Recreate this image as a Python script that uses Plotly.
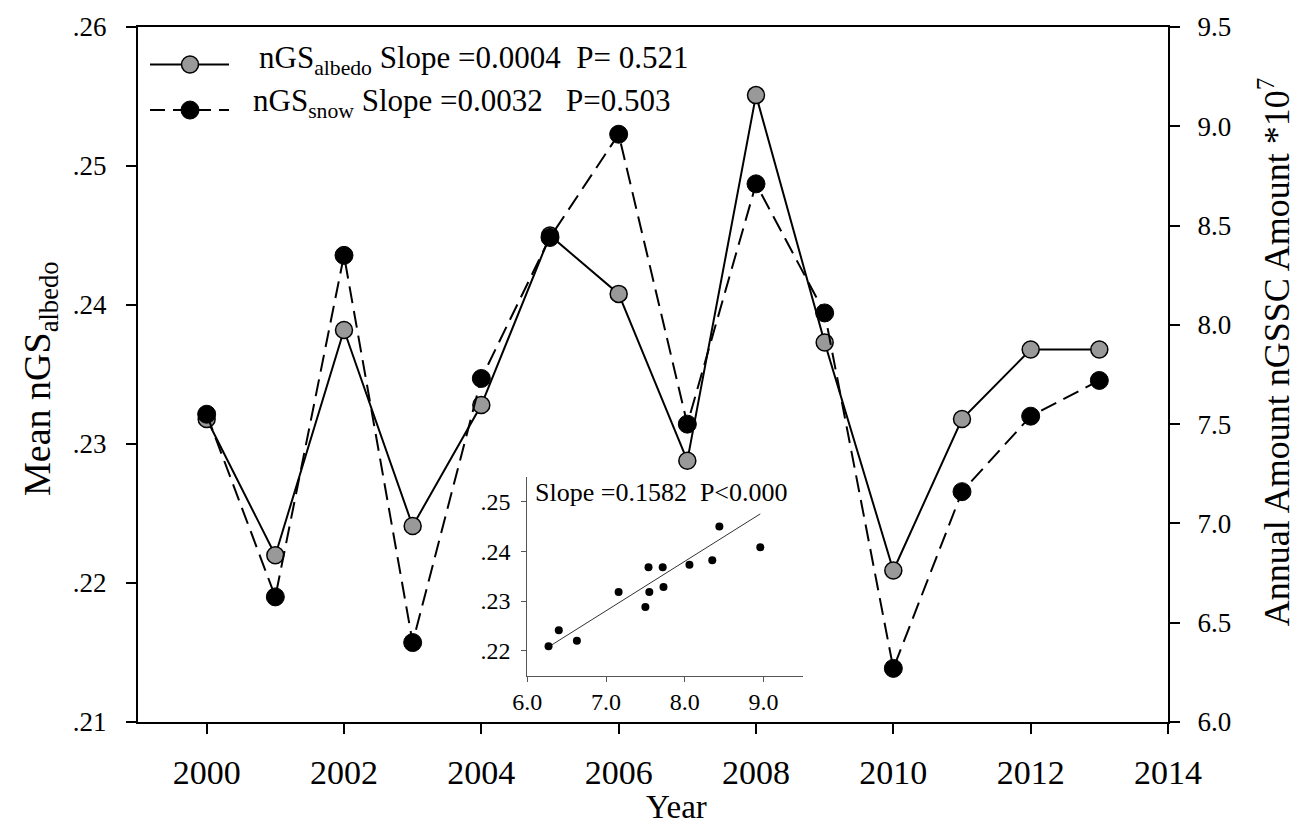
import numpy as np
import plotly.graph_objects as go

# ---------------- data ----------------
years = [2000, 2001, 2002, 2003, 2004, 2005, 2006, 2007, 2008, 2009, 2010, 2011, 2012, 2013]
albedo = [0.2318, 0.2220, 0.2382, 0.2241, 0.2328, 0.2450, 0.2408, 0.2288, 0.2551, 0.2373,
          0.2209, 0.2318, 0.2368, 0.2368]
snow = [7.55, 6.63, 8.35, 6.40, 7.73, 8.44, 8.96, 7.50, 8.71, 8.06, 6.27, 7.16, 7.54, 7.72]

x_ticks = [2000, 2002, 2004, 2006, 2008, 2010, 2012, 2014]
left_ticks = [0.21, 0.22, 0.23, 0.24, 0.25, 0.26]
left_tick_labels = [".21", ".22", ".23", ".24", ".25", ".26"]
right_ticks = [6.0, 6.5, 7.0, 7.5, 8.0, 8.5, 9.0, 9.5]
inset_x_ticks = [6.0, 7.0, 8.0, 9.0]
inset_x_labels = ["6.0", "7.0", "8.0", "9.0"]
inset_y_ticks = [0.22, 0.23, 0.24, 0.25]
inset_y_labels = [".22", ".23", ".24", ".25"]

legend_albedo = "nGS<sub>albedo</sub> Slope =0.0004&nbsp;&nbsp;P= 0.521"
legend_snow = "nGS<sub>snow</sub> Slope =0.0032&nbsp;&nbsp;&nbsp;P=0.503"
inset_text = "Slope =0.1582&nbsp;&nbsp;P&lt;0.000"

FONT = "Liberation Serif"
GRAY = "#999999"

# ---------------- layout geometry (pixels) ----------------
W, H = 1303, 826
L, R, T, B = 138, 135, 19, 104
PW, PH = W - L - R, H - T - B


def px(xp):
    return (xp - L) / PW


def py(yp):
    return (H - B - yp) / PH


fig = go.Figure()

# main series
fig.add_trace(go.Scatter(
    x=years, y=albedo, mode="lines+markers", yaxis="y", xaxis="x",
    line=dict(color="black", width=2),
    marker=dict(size=17, color=GRAY, line=dict(color="black", width=1.5)),
    showlegend=False, cliponaxis=False))
fig.add_trace(go.Scatter(
    x=years, y=snow, mode="lines+markers", yaxis="y2", xaxis="x",
    line=dict(color="black", width=2, dash="17px,8px"),
    marker=dict(size=18, color="black", line=dict(color="black", width=1)),
    showlegend=False, cliponaxis=False))

# inset: albedo vs snow amount, with linear fit
inset_range_y = [0.215, 0.255]
sx = np.array(snow)
sy = np.array(albedo)
k, b = np.polyfit(sx, sy, 1)
fit_x = np.array([sx.min(), sx.max()])
fit_y = k * fit_x + b
keep = (sy >= inset_range_y[0]) & (sy <= inset_range_y[1])

fig.add_trace(go.Scatter(
    x=fit_x, y=fit_y, mode="lines", xaxis="x3", yaxis="y3",
    line=dict(color="#333333", width=1), showlegend=False))
fig.add_trace(go.Scatter(
    x=sx[keep], y=sy[keep], mode="markers", xaxis="x3", yaxis="y3",
    marker=dict(size=8, color="black"), showlegend=False))

axis_font = dict(family=FONT, size=34, color="black")
ytick_font = dict(family=FONT, size=27, color="black")
inset_font = dict(family=FONT, size=24, color="black")

fig.update_layout(
    width=W, height=H,
    margin=dict(l=L, r=R, t=T, b=B, pad=0),
    paper_bgcolor="white", plot_bgcolor="rgba(0,0,0,0)",
    font=dict(family=FONT, color="black"),
    xaxis=dict(
        domain=[0, 1], range=[1999, 2014], tickvals=x_ticks,
        showline=True, linewidth=2, linecolor="black", mirror=True,
        ticks="outside", ticklen=10, tickwidth=2, tickcolor="black",
        tickfont=axis_font, ticklabelstandoff=9,
        showgrid=False, zeroline=False, anchor="y"),
    yaxis=dict(
        domain=[0, 1], range=[0.21, 0.26], tickvals=left_ticks, ticktext=left_tick_labels,
        showline=True, linewidth=2, linecolor="black", mirror=True,
        ticks="outside", ticklen=10, tickwidth=2, tickcolor="black",
        tickfont=ytick_font, ticklabelstandoff=14,
        showgrid=False, zeroline=False, anchor="x"),
    yaxis2=dict(
        overlaying="y", side="right", range=[6.0, 9.5], tickvals=right_ticks,
        tickformat=".1f",
        showline=True, linewidth=2, linecolor="black",
        ticks="outside", ticklen=10, tickwidth=2, tickcolor="black",
        tickfont=ytick_font, ticklabelstandoff=12,
        showgrid=False, zeroline=False, anchor="x"),
    xaxis3=dict(
        domain=[px(527.3), px(802.8)], range=[6.0, 9.5],
        tickvals=inset_x_ticks, ticktext=inset_x_labels,
        showline=True, linewidth=1, linecolor="#555555",
        ticks="outside", ticklen=5, tickwidth=1, tickcolor="#555555",
        tickfont=inset_font, ticklabelstandoff=0,
        showgrid=False, zeroline=False, anchor="y3"),
    yaxis3=dict(
        domain=[py(675), py(474)], range=inset_range_y,
        tickvals=inset_y_ticks, ticktext=inset_y_labels,
        showline=True, linewidth=1, linecolor="#555555",
        ticks="outside", ticklen=5, tickwidth=1, tickcolor="#555555",
        tickfont=inset_font, ticklabelstandoff=6,
        showgrid=False, zeroline=False, anchor="x3"),
)

annotations = [
    dict(text="Year", x=px(676), y=py(808), xref="paper", yref="paper",
         xanchor="center", yanchor="middle", showarrow=False,
         font=dict(family=FONT, size=33, color="black")),
    dict(text="Mean nGS<sub>albedo</sub>", x=px(40), y=py(375), xref="paper", yref="paper",
         xanchor="center", yanchor="middle", textangle=-90, showarrow=False,
         font=dict(family=FONT, size=38, color="black")),
    dict(text="Annual Amount nGSSC Amount *10<sup>7</sup>", x=px(1274), y=py(348),
         xref="paper", yref="paper", xanchor="center", yanchor="middle", textangle=-90,
         showarrow=False, font=dict(family=FONT, size=36, color="black")),
    dict(text=legend_albedo, x=px(257), y=py(52), xref="paper", yref="paper",
         xanchor="left", yanchor="middle", showarrow=False,
         font=dict(family=FONT, size=31, color="black")),
    dict(text=legend_snow, x=px(251), y=py(96), xref="paper", yref="paper",
         xanchor="left", yanchor="middle", showarrow=False,
         font=dict(family=FONT, size=31, color="black")),
    dict(text=inset_text, x=px(533), y=py(490), xref="paper", yref="paper",
         xanchor="left", yanchor="middle", showarrow=False,
         font=dict(family=FONT, size=26, color="black")),
]
fig.update_layout(annotations=annotations)

shapes = [
    # legend row 1: solid line + gray circle
    dict(type="line", xref="paper", yref="paper", x0=px(150), x1=px(229), y0=py(57), y1=py(57),
         line=dict(color="black", width=2)),
    dict(type="circle", xref="paper", yref="paper", xsizemode="pixel", ysizemode="pixel",
         xanchor=px(190), yanchor=py(57), x0=-8.5, x1=8.5, y0=-8.5, y1=8.5,
         fillcolor=GRAY, line=dict(color="black", width=1.5)),
    # legend row 2: dashed line + black circle
    dict(type="line", xref="paper", yref="paper", x0=px(150), x1=px(229), y0=py(103), y1=py(103),
         line=dict(color="black", width=2, dash="15px,8px")),
    dict(type="circle", xref="paper", yref="paper", xsizemode="pixel", ysizemode="pixel",
         xanchor=px(190), yanchor=py(103), x0=-9, x1=9, y0=-9, y1=9,
         fillcolor="black", line=dict(color="black", width=1)),
]
fig.update_layout(shapes=shapes)

fig.write_html("out.html")
